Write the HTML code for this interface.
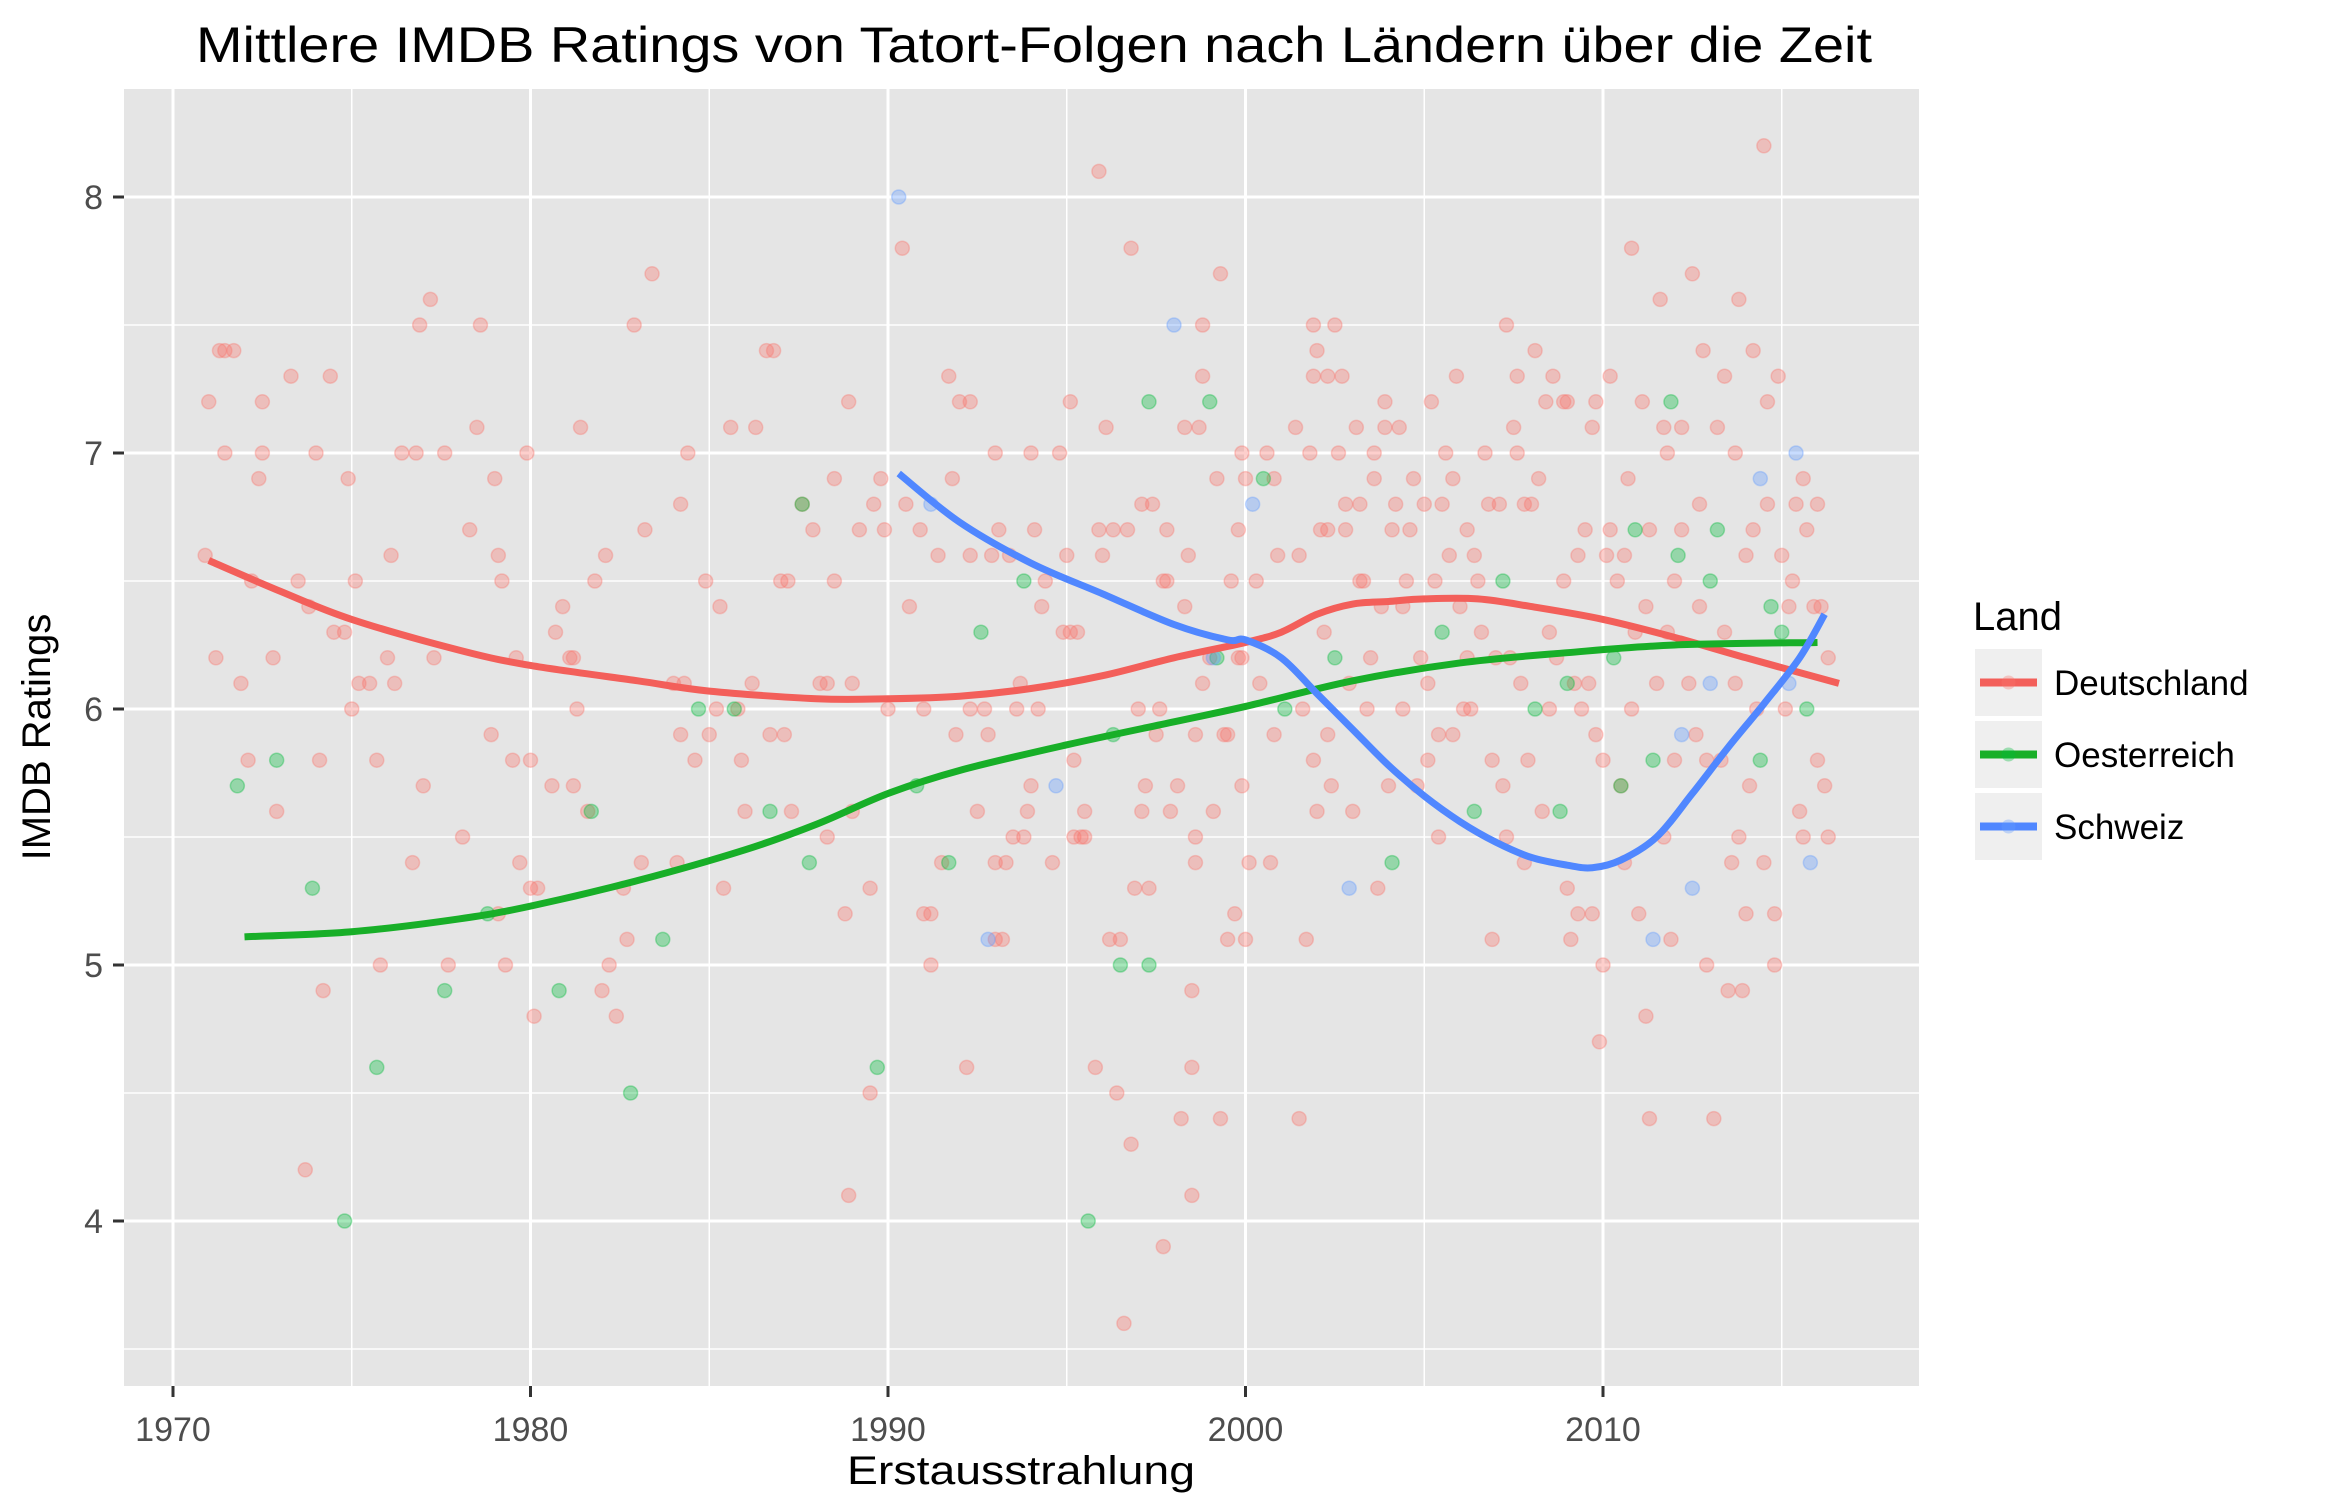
<!DOCTYPE html>
<html><head><meta charset="utf-8">
<style>
html,body{margin:0;padding:0;background:#fff;}
svg{display:block;font-family:"Liberation Sans",sans-serif;}
</style></head>
<body>
<svg id="chart" width="2333" height="1499" viewBox="0 0 2333 1499">
<text x="1034" y="62" font-size="50" text-anchor="middle" textLength="1676" lengthAdjust="spacingAndGlyphs" fill="#000">Mittlere IMDB Ratings von Tatort-Folgen nach Ländern über die Zeit</text>
<rect x="124" y="89" width="1795" height="1297" fill="#e5e5e5"/>
<g id="grid"></g>
<g id="points"></g>
<g id="lines"></g>
<g id="axes"></g>
<text x="1021" y="1484" font-size="40" text-anchor="middle" textLength="348" lengthAdjust="spacingAndGlyphs" fill="#000">Erstausstrahlung</text>
<text transform="translate(50,737) rotate(-90)" font-size="40" text-anchor="middle" fill="#000">IMDB Ratings</text>
<g>
<text x="1973" y="630" font-size="40" fill="#000">Land</text>
<g>
<rect x="1975" y="649" width="67" height="67" fill="#efefef"/>
<line x1="1980" x2="2037" y1="682.5" y2="682.5" stroke="#F35F5A" stroke-width="8"/>
<circle cx="2008.5" cy="682.5" r="7" fill="#F8766D" fill-opacity="0.35"/>
<text x="2054" y="695" font-size="35" fill="#000">Deutschland</text></g>
<g>
<rect x="1975" y="721" width="67" height="67" fill="#efefef"/>
<line x1="1980" x2="2037" y1="754.5" y2="754.5" stroke="#18AF28" stroke-width="8"/>
<circle cx="2008.5" cy="754.5" r="7" fill="#00BA38" fill-opacity="0.35"/>
<text x="2054" y="767" font-size="35" fill="#000">Oesterreich</text></g>
<g>
<rect x="1975" y="793" width="67" height="67" fill="#efefef"/>
<line x1="1980" x2="2037" y1="826.5" y2="826.5" stroke="#5087FF" stroke-width="8"/>
<circle cx="2008.5" cy="826.5" r="7" fill="#619CFF" fill-opacity="0.35"/>
<text x="2054" y="839" font-size="35" fill="#000">Schweiz</text></g>
</g>
</svg>
<script>
const xTicks=[1970,1980,1990,2000,2010];
const yTicks=[4,5,6,7,8];
const colors={de:"#F8766D",at:"#00BA38",ch:"#619CFF"};
const lineColors={de:"#F35F5A",at:"#18AF28",ch:"#5087FF"};
const deYears=[1970.9,1971.0,1971.2,1971.3,1971.45,1971.7,1971.45,1971.9,1972.1,1972.2,1972.4,1972.5,1972.5,1972.8,1972.9,1973.3,1973.5,1973.7,1973.8,1974.0,1974.1,1974.2,1974.4,1974.5,1974.8,1974.9,1975.0,1975.1,1975.2,1975.5,1975.7,1975.8,1976.0,1976.1,1976.2,1976.4,1976.7,1976.8,1976.9,1977.0,1977.2,1977.3,1977.6,1977.7,1978.1,1978.3,1978.5,1978.6,1978.9,1979.0,1979.1,1979.1,1979.2,1979.3,1979.5,1979.6,1979.7,1979.9,1980.0,1980.0,1980.1,1980.2,1980.6,1980.7,1980.9,1981.1,1981.2,1981.2,1981.3,1981.4,1981.6,1981.8,1982.0,1982.1,1982.2,1982.4,1982.6,1982.7,1982.9,1983.1,1983.2,1983.4,1984.0,1984.1,1984.2,1984.2,1984.3,1984.4,1984.6,1984.9,1985.0,1985.2,1985.3,1985.4,1985.6,1985.8,1985.9,1986.0,1986.2,1986.3,1986.6,1986.7,1986.8,1987.0,1987.2,1987.1,1987.3,1987.6,1987.9,1988.1,1988.3,1988.3,1988.5,1988.5,1988.8,1988.9,1988.9,1989.0,1989.0,1989.2,1989.5,1989.5,1989.6,1989.8,1989.9,1990.0,1990.4,1990.5,1990.6,1990.9,1991.0,1991.0,1991.2,1991.2,1991.4,1991.5,1991.7,1991.8,1991.9,1992.0,1992.3,1992.2,1992.3,1992.3,1992.5,1992.7,1992.8,1992.9,1993.0,1993.0,1993.2,1993.1,1993.0,1993.3,1993.4,1993.5,1993.6,1993.7,1993.8,1993.9,1994.0,1994.0,1994.1,1994.2,1994.3,1994.4,1994.6,1994.8,1994.9,1995.0,1995.1,1995.1,1995.2,1995.2,1995.4,1995.5,1995.3,1995.5,1995.8,1995.9,1995.9,1996.0,1996.1,1996.2,1996.3,1996.4,1996.6,1996.5,1996.7,1996.8,1996.8,1996.9,1997.0,1997.1,1997.1,1997.2,1997.3,1997.4,1997.5,1997.6,1997.7,1997.8,1997.7,1997.8,1997.9,1998.1,1998.2,1998.3,1998.3,1998.4,1998.5,1998.5,1998.5,1998.6,1998.6,1998.6,1998.7,1998.8,1998.8,1998.8,1999.0,1999.1,1999.2,1999.3,1999.3,1999.4,1999.5,1999.5,1999.6,1999.7,1999.8,1999.9,1999.8,1999.9,2000.0,2000.0,1999.9,2000.1,2000.3,2000.4,2000.6,2000.7,2000.8,2000.8,2000.9,2001.4,2001.5,2001.5,2001.6,2001.7,2001.8,2001.9,2001.9,2001.9,2002.0,2002.0,2002.1,2002.3,2002.2,2002.3,2002.3,2002.4,2002.5,2002.6,2002.7,2002.8,2002.8,2002.9,2003.0,2003.1,2003.2,2003.2,2003.3,2003.4,2003.5,2003.6,2003.6,2003.7,2003.8,2003.9,2003.9,2004.0,2004.1,2004.2,2004.3,2004.4,2004.4,2004.5,2004.6,2004.7,2004.8,2004.9,2005.0,2005.1,2005.1,2005.2,2005.3,2005.4,2005.4,2005.5,2005.6,2005.7,2005.8,2005.8,2005.9,2006.0,2006.1,2006.2,2006.2,2006.3,2006.4,2006.5,2006.6,2006.7,2006.8,2006.9,2006.9,2007.0,2007.1,2007.2,2007.3,2007.3,2007.4,2007.5,2007.6,2007.6,2007.7,2007.8,2007.8,2007.9,2008.0,2008.1,2008.2,2008.3,2008.4,2008.5,2008.5,2008.6,2008.7,2008.9,2008.9,2009.0,2009.0,2009.1,2009.2,2009.3,2009.3,2009.4,2009.5,2009.6,2009.7,2009.7,2009.8,2009.8,2009.9,2010.0,2010.0,2010.1,2010.2,2010.2,2010.4,2010.5,2010.6,2010.6,2010.7,2010.8,2010.8,2010.9,2011.0,2011.1,2011.2,2011.2,2011.3,2011.3,2011.5,2011.6,2011.7,2011.7,2011.8,2011.8,2011.9,2012.0,2012.0,2012.2,2012.2,2012.4,2012.5,2012.6,2012.7,2012.7,2012.8,2012.9,2012.9,2013.1,2013.2,2013.3,2013.4,2013.4,2013.5,2013.6,2013.7,2013.7,2013.8,2013.8,2013.9,2014.0,2014.0,2014.1,2014.2,2014.2,2014.3,2014.5,2014.5,2014.6,2014.6,2014.8,2014.8,2014.9,2015.0,2015.1,2015.2,2015.3,2015.4,2015.5,2015.6,2015.6,2015.7,2015.9,2016.0,2016.0,2016.1,2016.2,2016.3,2016.3];
const deRatings=[6.6,7.2,6.2,7.4,7.4,7.4,7.0,6.1,5.8,6.5,6.9,7.2,7.0,6.2,5.6,7.3,6.5,4.2,6.4,7.0,5.8,4.9,7.3,6.3,6.3,6.9,6.0,6.5,6.1,6.1,5.8,5.0,6.2,6.6,6.1,7.0,5.4,7.0,7.5,5.7,7.6,6.2,7.0,5.0,5.5,6.7,7.1,7.5,5.9,6.9,5.2,6.6,6.5,5.0,5.8,6.2,5.4,7.0,5.8,5.3,4.8,5.3,5.7,6.3,6.4,6.2,6.2,5.7,6.0,7.1,5.6,6.5,4.9,6.6,5.0,4.8,5.3,5.1,7.5,5.4,6.7,7.7,6.1,5.4,6.8,5.9,6.1,7.0,5.8,6.5,5.9,6.0,6.4,5.3,7.1,6.0,5.8,5.6,6.1,7.1,7.4,5.9,7.4,6.5,6.5,5.9,5.6,6.8,6.7,6.1,6.1,5.5,6.9,6.5,5.2,4.1,7.2,5.6,6.1,6.7,4.5,5.3,6.8,6.9,6.7,6.0,7.8,6.8,6.4,6.7,6.0,5.2,5.2,5.0,6.6,5.4,7.3,6.9,5.9,7.2,7.2,4.6,6.6,6.0,5.6,6.0,5.9,6.6,7.0,5.1,5.1,6.7,5.4,5.4,6.6,5.5,6.0,6.1,5.5,5.6,7.0,5.7,6.7,6.0,6.4,6.5,5.4,7.0,6.3,6.6,7.2,6.3,5.8,5.5,5.5,5.5,6.3,5.6,4.6,8.1,6.7,6.6,7.1,5.1,6.7,4.5,3.6,5.1,6.7,7.8,4.3,5.3,6.0,6.8,5.6,5.7,5.3,6.8,5.9,6.0,6.5,6.5,3.9,6.7,5.6,5.7,4.4,7.1,6.4,6.6,4.1,4.9,4.6,5.9,5.4,5.5,7.1,7.5,7.3,6.1,6.2,5.6,6.9,4.4,7.7,5.9,5.9,5.1,6.5,5.2,6.2,6.2,6.7,7.0,6.9,5.1,5.7,5.4,6.5,6.1,7.0,5.4,5.9,6.9,6.6,7.1,6.6,4.4,6.0,5.1,7.0,5.8,7.5,7.3,7.4,5.6,6.7,6.7,6.3,7.3,5.9,5.7,7.5,7.0,7.3,6.8,6.7,6.1,5.6,7.1,6.5,6.8,6.5,6.0,6.2,7.0,6.9,5.3,6.4,7.2,7.1,5.7,6.7,6.8,7.1,6.4,6.0,6.5,6.7,6.9,5.7,6.2,6.8,5.8,6.1,7.2,6.5,5.5,5.9,6.8,7.0,6.6,6.9,5.9,7.3,6.4,6.0,6.7,6.2,6.0,6.6,6.5,6.3,7.0,6.8,5.8,5.1,6.2,6.8,5.7,7.5,5.5,6.2,7.1,7.0,7.3,6.1,6.8,5.4,5.8,6.8,7.4,6.9,5.6,7.2,6.0,6.3,7.3,6.2,7.2,6.5,5.3,7.2,5.1,6.1,5.2,6.6,6.0,6.7,6.1,5.2,7.1,7.2,5.9,4.7,5.0,5.8,6.6,7.3,6.7,6.5,5.7,6.6,5.4,6.9,6.0,7.8,6.3,5.2,7.2,6.4,4.8,4.4,6.7,6.1,7.6,7.1,5.5,6.3,7.0,5.1,5.8,6.5,7.1,6.7,6.1,7.7,5.9,6.4,6.8,7.4,5.0,5.8,4.4,7.1,5.8,6.3,7.3,4.9,5.4,6.1,7.0,7.6,5.5,4.9,6.6,5.2,5.7,7.4,6.7,6.0,8.2,5.4,6.8,7.2,5.0,5.2,7.3,6.6,6.0,6.4,6.5,6.8,5.6,6.9,5.5,6.7,6.4,5.8,6.8,6.4,5.7,6.2,5.5];
const atYears=[1971.8,1972.9,1973.9,1974.8,1975.7,1977.6,1978.8,1980.8,1981.7,1982.8,1983.7,1984.7,1985.7,1986.7,1987.6,1987.8,1989.7,1990.8,1991.7,1992.6,1993.8,1995.6,1996.3,1996.5,1997.3,1997.3,1999.0,1999.2,2000.5,2001.1,2002.5,2004.1,2005.5,2006.4,2007.2,2008.1,2008.8,2009.0,2010.3,2010.5,2010.9,2011.4,2011.9,2012.1,2013.0,2013.2,2014.4,2014.7,2015.0,2015.7];
const atRatings=[5.7,5.8,5.3,4.0,4.6,4.9,5.2,4.9,5.6,4.5,5.1,6.0,6.0,5.6,6.8,5.4,4.6,5.7,5.4,6.3,6.5,4.0,5.9,5.0,5.0,7.2,7.2,6.2,6.9,6.0,6.2,5.4,6.3,5.6,6.5,6.0,5.6,6.1,6.2,5.7,6.7,5.8,7.2,6.6,6.5,6.7,5.8,6.4,6.3,6.0];
const chYears=[1990.3,1991.2,1992.8,1994.7,1998.0,1999.1,2000.2,2002.9,2011.4,2012.2,2012.5,2013.0,2014.4,2015.2,2015.4,2015.8];
const chRatings=[8.0,6.8,5.1,5.7,7.5,6.2,6.8,5.3,5.1,5.9,5.3,6.1,6.9,6.1,7.0,5.4];
const deSmoothYears=[1971,1973,1975,1978,1980,1983,1985,1988,1990,1992,1994,1996,1998,2000,2001,2002,2003,2004,2005,2006.5,2008,2010,2012,2014,2016.6];
const deSmoothValues=[6.58,6.46,6.35,6.23,6.17,6.11,6.07,6.04,6.04,6.05,6.08,6.13,6.2,6.26,6.3,6.37,6.41,6.42,6.43,6.43,6.4,6.35,6.28,6.2,6.1];
const atSmoothYears=[1972,1975,1978,1980,1983,1986,1988,1990,1992,1995,1998,2000,2003,2006,2009,2012,2016];
const atSmoothValues=[5.11,5.13,5.18,5.23,5.33,5.45,5.55,5.67,5.76,5.86,5.95,6.01,6.11,6.18,6.22,6.25,6.26];
const chSmoothYears=[1990.3,1992,1994,1996,1998,1999.5,2000,2001,2002,2003,2004,2005,2006,2007,2008,2009,2009.7,2010.5,2011.5,2012.5,2013.5,2014.5,2015.5,2016.2];
const chSmoothValues=[6.92,6.73,6.57,6.45,6.33,6.27,6.27,6.2,6.06,5.92,5.78,5.66,5.56,5.48,5.42,5.39,5.38,5.41,5.5,5.67,5.85,6.02,6.2,6.37];

const NS="http://www.w3.org/2000/svg";
const L=124,R=1919,T=89,B=1386;
function xs(y){return 173+(y-1970)*35.75;}
function ys(v){return 197+(8-v)*256;}
function mk(tag,attrs,parent){const e=document.createElementNS(NS,tag);for(const k in attrs)e.setAttribute(k,attrs[k]);parent.appendChild(e);return e;}
const grid=document.getElementById('grid'),axes=document.getElementById('axes');
for(let v=3.5;v<=8.5;v+=0.5){const y=ys(v);if(y<T||y>B)continue;const major=Number.isInteger(v);
 const g=mk('line',{x1:L,x2:R,y1:y,y2:y,stroke:'#fff','stroke-width':major?3:1.5},grid);
 
 }
for(let yr=1965;yr<=2025;yr+=5){const x=xs(yr);if(x<L||x>R)continue;const major=yr%10===0;
 const g=mk('line',{x1:x,x2:x,y1:T,y2:B,stroke:'#fff','stroke-width':major?3:1.5},grid);
 
 }
yTicks.forEach(v=>{const y=ys(v);
 const t=mk('line',{x1:113,x2:124,y1:y,y2:y,stroke:'#333','stroke-width':3},axes);
 
 
 const tx=mk('text',{x:103,y:y+12,'font-size':34,'text-anchor':'end',fill:'#4d4d4d'},axes);tx.textContent=v;
 
 });
xTicks.forEach(v=>{const x=xs(v);
 const t=mk('line',{x1:x,x2:x,y1:1386,y2:1397,stroke:'#333','stroke-width':3},axes);
 
 
 const tx=mk('text',{x:x,y:1441,'font-size':34,'text-anchor':'middle',fill:'#4d4d4d'},axes);tx.textContent=v;
 
 });
const pts=document.getElementById('points');
function drawPts(yrs,vals,col,name){for(let i=0;i<yrs.length;i++){
 const c=mk('circle',{cx:xs(yrs[i]),cy:ys(vals[i]),r:7,fill:col,'fill-opacity':0.35,stroke:col,'stroke-opacity':0.35,'stroke-width':1.5},pts);
 
 }}
drawPts(deYears,deRatings,colors.de,'point-deutschland');
drawPts(atYears,atRatings,colors.at,'point-oesterreich');
drawPts(chYears,chRatings,colors.ch,'point-schweiz');
const lines=document.getElementById('lines');
function drawLine(yrs,vals,col,name){
 const n=yrs.length;const P=yrs.map((y,i)=>[xs(y),ys(vals[i])]);
 let d='M'+P[0][0]+','+P[0][1];
 for(let i=0;i<n-1;i++){const p0=P[Math.max(0,i-1)],p1=P[i],p2=P[i+1],p3=P[Math.min(n-1,i+2)];
  const c1=[p1[0]+(p2[0]-p0[0])/6,p1[1]+(p2[1]-p0[1])/6],c2=[p2[0]-(p3[0]-p1[0])/6,p2[1]-(p3[1]-p1[1])/6];
  d+=' C'+c1+' '+c2+' '+p2;}
 const p=mk('path',{d:d,fill:'none',stroke:col,'stroke-width':7,'stroke-linecap':'butt'},lines);
 
 }
drawLine(deSmoothYears,deSmoothValues,lineColors.de,'smooth-line-deutschland');
drawLine(atSmoothYears,atSmoothValues,lineColors.at,'smooth-line-oesterreich');
drawLine(chSmoothYears,chSmoothValues,lineColors.ch,'smooth-line-schweiz');
</script>
</body></html>
